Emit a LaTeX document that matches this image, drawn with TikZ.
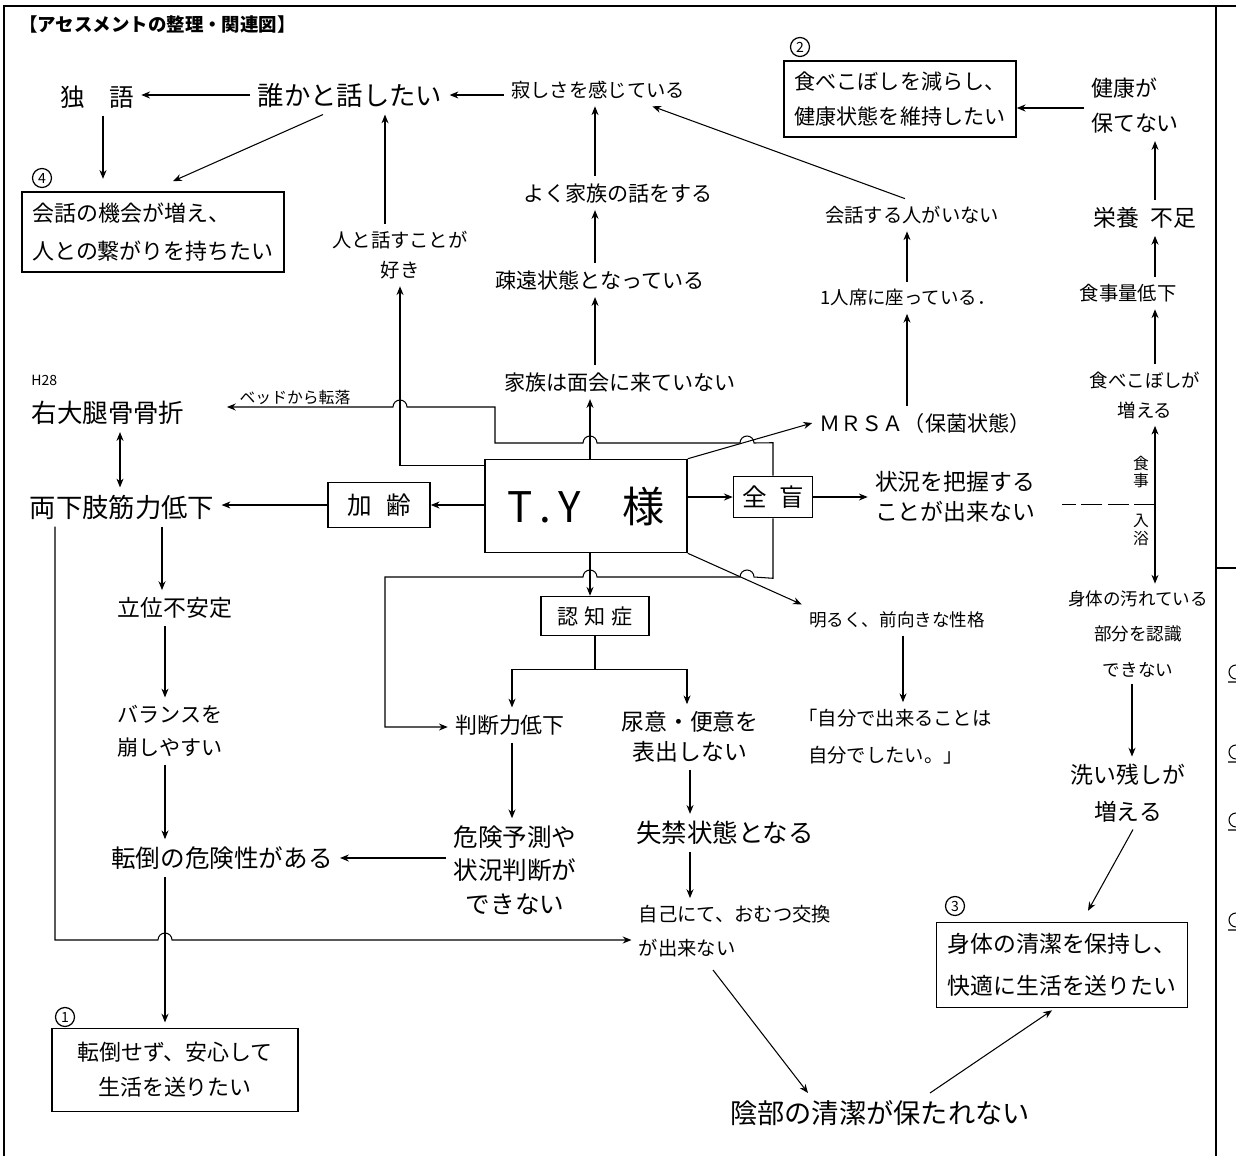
\documentclass[tikz,border=0pt]{standalone}
\usepackage{fontspec}
\newfontfamily\jp{Noto Sans CJK JP}
\usetikzlibrary{positioning, arrows.meta, calc}

\newcommand\jt[2]{\jp\fontsize{#1}{#2}\selectfont}

\tikzset{
  note/.style={align=center, inner sep=4pt},
  goal/.style={draw, line width=0.9pt, align=left, inner sep=6pt},
  hub/.style={draw, line width=0.9pt, inner sep=2pt},
  num/.style={circle, draw, line width=0.7pt, inner sep=0.6pt, minimum size=0.38cm, font=\jt{8}{9}},
  arr/.style={-{Stealth[length=5pt,width=4pt]}, line width=0.6pt},
  dbl/.style={{Stealth[length=5pt,width=4pt]}-{Stealth[length=5pt,width=4pt]}, line width=0.6pt}
}

\begin{document}
\begin{tikzpicture}[x=0.02cm, y=-0.02cm]
\useasboundingbox (0,0) rectangle (1236,1156);

% frame
\draw[line width=1.2pt] (4,1156) -- (4,6) -- (1236,6);
\draw[line width=1.2pt] (1216,6) -- (1216,1156);
\draw[line width=0.8pt] (1216,568) -- (1236,568);
\foreach \y in {672,752,820,920}
  \draw[line width=0.6pt] (1236,\y+7) arc[start angle=90, end angle=270, radius=7]
    (1228,\y+10) -- (1236,\y+10);

\node[note, anchor=west, font=\jt{10.5}{12}\bfseries] (title) at (12,24) {【アセスメントの整理・関連図】};

% top row
\node[note, font=\jt{14}{18}] (hitorigoto) at (97,97) {独\hspace{1em}語};
\node[note, font=\jt{15}{18}] (hanashitai) at (350,95) {誰かと話したい};
\node[note, font=\jt{11}{16}] (sabishi) at (598,90) {寂しさを感じている};
\node[goal, minimum width=4.6cm, minimum height=1.48cm, font=\jt{12}{20}] (goal2) at (900,99) {食べこぼしを減らし、\\健康状態を維持したい};
\node[num] (n2) at (800,47) {2};
\node[note, align=left, font=\jt{12.5}{20}] (kenkou) at (1135,106) {健康が\\保てない};

\node[num] (n4) at (42,178) {4};
\node[goal, minimum width=5.16cm, minimum height=1.58cm, font=\jt{12.5}{22}] (goal4) at (153,232) {会話の機会が増え、\\人との繋がりを持ちたい};

\node[note, font=\jt{12}{16}] (kazokubanashi) at (618,193) {よく家族の話をする};
\node[note, font=\jt{11}{16}] (kaiwanashi) at (912,215) {会話する人がいない};
\node[note, font=\jt{13}{16}] (eiyou) at (1145,218) {栄養\hspace{0.5em}不足};
\node[note, font=\jt{11}{17}] (sukida) at (400,255) {人と話すことが\\好き};
\node[note, font=\jt{12}{16}] (soen) at (600,280) {疎遠状態となっている};
\node[note, font=\jt{10.5}{16}] (hitoriseki) at (908,298) {1人席に座っている．};
\node[note, font=\jt{11}{16}] (shokujiryou) at (1128,293) {食事量低下};

% middle
\node[note, anchor=west, font=\jt{8}{10}] (h28) at (24,380) {H28};
\node[note, font=\jt{14.5}{18}] (kossetsu) at (108,413) {右大腿骨骨折};
\node[note, font=\jt{9}{10}] (tenraku) at (295,397) {ベッドから転落};
\node[note, font=\jt{12}{16}] (menkai) at (620,382) {家族は面会に来ていない};
\node[note, font=\jt{12}{16}] (mrsa) at (925,423) {ＭＲＳＡ（保菌状態）};
\node[note, font=\jt{10.5}{17}] (kobosu) at (1145,395) {食べこぼしが\\増える};

\node[note, font=\jt{15}{18}] (kinryoku) at (122,507) {両下肢筋力低下};
\node[hub, minimum width=2.04cm, minimum height=0.9cm, font=\jt{14}{16}] (karei) at (379,505) {加\hspace{0.6em}齢};
\node[hub, minimum width=4.04cm, minimum height=1.86cm, font=\jt{24}{26}] (ty) at (586,506) {T\,.\,Y\hspace{1em}様};
\node[hub, minimum width=1.58cm, minimum height=0.82cm, font=\jt{14}{16}] (zenmou) at (773,497) {全\hspace{0.5em}盲};
\node[note, font=\jt{13}{17}] (haaku) at (955,497) {状況を把握する\\ことが出来ない};
\node[note, font=\jt{9}{10}] (shokuji) at (1141,472) {食\\事};
\node[note, font=\jt{9}{10}] (nyuuyoku) at (1141,530) {入\\浴};

\node[hub, minimum width=2.16cm, minimum height=0.78cm, font=\jt{12}{14}] (ninchi) at (595,616) {認\hspace{0.3em}知\hspace{0.3em}症};
\node[note, font=\jt{10}{14}] (akaruku) at (897,620) {明るく、前向きな性格};
\node[note, font=\jt{13}{16}] (ritsui) at (175,608) {立位不安定};
\node[note, font=\jt{10}{20}] (yogore) at (1138,634) {身体の汚れている\\部分を認識\\できない};

% lower
\node[note, font=\jt{12.5}{16}] (handan) at (510,725) {判断力低下};
\node[note, font=\jt{13}{17}] (nyoui) at (690,737) {尿意・便意を\\表出しない};
\node[note, align=left, font=\jt{11}{21}] (jibun) at (895,737) {「自分で出来ることは\\\hspace{0.5em}自分でしたい。」};
\node[note, font=\jt{12}{19}] (balance) at (170,731) {バランスを\\崩しやすい};
\node[note, font=\jt{13}{21}] (arainokoshi) at (1128,793) {洗い残しが\\増える};
\node[note, font=\jt{14}{19}] (kikenyosoku) at (515,870) {危険予測や\\状況判断が\\できない};
\node[note, font=\jt{14.5}{18}] (shikkin) at (725,833) {失禁状態となる};
\node[note, font=\jt{14}{18}] (tentou) at (222,858) {転倒の危険性がある};
\node[note, align=left, font=\jt{11}{19}] (omutsu) at (735,931) {自己にて、おむつ交換\\が出来ない};

\node[num] (n3) at (955,906) {3};
\node[goal, minimum width=5.02cm, minimum height=1.7cm, font=\jt{13}{24}] (goal3) at (1062,965) {身体の清潔を保持し、\\快適に生活を送りたい};
\node[num] (n1) at (65,1017) {1};
\node[goal, align=center, minimum width=4.92cm, minimum height=1.66cm, font=\jt{12.5}{20}] (goal1) at (175,1070) {転倒せず、安心して\\生活を送りたい};
\node[note, font=\jt{15.5}{18}] (inbu) at (880,1113) {陰部の清潔が保たれない};

% connectors, top
\draw[arr] (sabishi.west |- hanashitai.east) -- (hanashitai.east);
\draw[arr] (hanashitai.west) -- (hitorigoto.east |- hanashitai.west);
\draw[arr, shorten >=7pt] (hitorigoto.south -| 103,0) -- (goal4.north -| 103,0);
\draw[arr] ($(hanashitai.south)+(-27,0)$) -- ($(goal4.north)+(20,-10)$);
\draw[arr] (sukida.north -| 385,0) -- (hanashitai.south -| 385,0);
\draw[arr] ($(ty.north west)+(0,7)$) -| (sukida.south);

\draw[arr] (ty.north -| 590,0) -- (menkai.south -| 590,0);
\draw[arr] (menkai.north -| 595,0) -- (soen.south -| 595,0);
\draw[arr] (soen.north -| 595,0) -- (kazokubanashi.south -| 595,0);
\draw[arr] (kazokubanashi.north -| 595,0) -- (sabishi.south -| 595,0);

\draw[arr] (kaiwanashi.north -| 905,0) -- ($(sabishi.south east)+(-40,0)$);
\draw[arr] (hitoriseki.north -| 907,0) -- (kaiwanashi.south -| 907,0);
\draw[arr] (mrsa.north -| 907,0) -- (hitoriseki.south -| 907,0);

\draw[arr] (kenkou.west |- 0,108) -- (goal2.east |- 0,108);
\draw[arr] (eiyou.north -| 1155,0) -- (kenkou.south -| 1155,0);
\draw[arr] (shokujiryou.north -| 1155,0) -- (eiyou.south -| 1155,0);
\draw[arr] (kobosu.north -| 1155,0) -- (shokujiryou.south -| 1155,0);
\draw[dbl] (kobosu.south -| 1155,0) -- coordinate[pos=0.5] (split) (yogore.north -| 1155,0);
\draw[dashed, line width=0.6pt, dash pattern=on 12pt off 3pt] (split) -- ++(-93,0);

% connectors, around T.Y
\draw[arr] (ty.west |- karei.east) -- (karei.east);
\draw[arr] (karei.west) -- (kinryoku.east |- karei.west);
\draw[arr] (ty.east |- zenmou.west) -- (zenmou.west);
\draw[arr] (zenmou.east) -- (haaku.west |- zenmou.east);
\draw[arr] (ty.north east) -- (mrsa.west);
\draw[arr] (ty.south east) -- (akaruku.north west);
\draw[arr] (ty.south -| 590,0) -- (ninchi.north -| 590,0);
\draw[arr] (ninchi.south) -- ++(0,33) -| (handan.north -| 512,0);
\draw[arr] (ninchi.south) -- ++(0,33) -| (nyoui.north -| 687,0);

\draw[arr, shorten >=20pt] (zenmou.north) -- ++(0,-33) -- (754,443)
  arc[start angle=0, end angle=-180, radius=7] -- (597,443)
  arc[start angle=0, end angle=-180, radius=7] -- (495,443) -- (495,407) -- (407,407)
  arc[start angle=0, end angle=-180, radius=7] -- (kossetsu.east |- 0,407);
\draw[arr] (zenmou.south) -- ++(0,60) -- (754,577)
  arc[start angle=0, end angle=-180, radius=7] -- (597,577)
  arc[start angle=0, end angle=-180, radius=7] -- (385,577) -- (385,727) -- (handan.west |- 0,727);

% connectors, left
\draw[dbl] (kossetsu.south -| 120,0) -- (kinryoku.north -| 120,0);
\draw[arr] (kinryoku.south -| 162,0) -- (ritsui.north -| 162,0);
\draw[arr] (ritsui.south -| 165,0) -- (balance.north -| 165,0);
\draw[arr] (balance.south -| 165,0) -- (tentou.north -| 165,0);
\draw[arr, shorten >=3pt] (tentou.south -| 165,0) -- (goal1.north -| 165,0);
\draw[arr] (kikenyosoku.west |- tentou.east) -- (tentou.east);
\draw[arr] (kinryoku.south -| 55,0) -- (55,940) -- (158,940)
  arc[start angle=180, end angle=360, radius=7] -- (omutsu.west |- 0,940);

% connectors, lower
\draw[arr] (handan.south -| 512,0) -- (kikenyosoku.north -| 512,0);
\draw[arr] (nyoui.south -| 690,0) -- (shikkin.north -| 690,0);
\draw[arr] (shikkin.south -| 690,0) -- (omutsu.north -| 690,0);
\draw[arr] (akaruku.south -| 903,0) -- (jibun.north -| 903,0);
\draw[arr] (yogore.south -| 1132,0) -- (arainokoshi.north -| 1132,0);
\draw[arr] ($(arainokoshi.south)+(5,0)$) -- ($(goal3.north)+(26,-11)$);
\draw[arr] ($(omutsu.south)+(-22,6)$) -- (inbu.north -| 808,0);
\draw[arr] (inbu.north -| 930,0) -- ($(goal3.south)+(-10,2)$);

\end{tikzpicture}
\end{document}
